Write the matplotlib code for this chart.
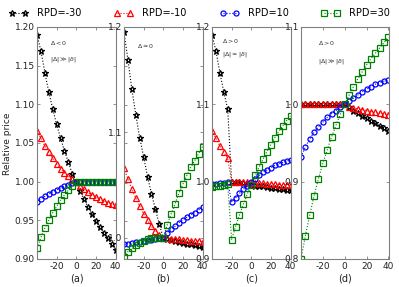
import matplotlib
matplotlib.use("Agg")
import matplotlib.pyplot as plt
from matplotlib.lines import Line2D
import numpy as np

plt.rcParams["axes.unicode_minus"] = False
plt.rcParams["font.family"] = "DejaVu Sans"

# x grid shared by all panels
x = [-40, -36, -32, -28, -24, -20, -16, -12, -8, -4, 0,
     4, 8, 12, 16, 20, 24, 28, 32, 36, 40]

labels = ["RPD=-30", "RPD=-10", "RPD=10", "RPD=30"]

# panel (a): delta < 0, |D| >> |d|
a_m30 = [1.190, 1.169, 1.141, 1.116, 1.094, 1.074, 1.056, 1.040, 1.025, 1.010, 1.000,
         0.988, 0.977, 0.967, 0.958, 0.949, 0.941, 0.934, 0.927, 0.919, 0.912]
a_m10 = [1.066, 1.056, 1.046, 1.038, 1.030, 1.023, 1.017, 1.011, 1.007, 1.003, 1.000,
         0.995, 0.990, 0.986, 0.983, 0.980, 0.977, 0.975, 0.973, 0.971, 0.970]
a_p10 = [0.974, 0.978, 0.981, 0.984, 0.987, 0.989, 0.992, 0.994, 0.996, 0.998, 1.000,
         1.000, 1.000, 1.000, 1.000, 1.000, 1.000, 1.000, 1.000, 1.000, 1.000]
a_p30 = [0.914, 0.928, 0.940, 0.950, 0.960, 0.968, 0.976, 0.983, 0.989, 0.995, 1.000,
         1.000, 1.000, 1.000, 1.000, 1.000, 1.000, 1.000, 1.000, 1.000, 1.000]

# panel (b): delta ~ 0
b_m30 = [1.195, 1.169, 1.141, 1.117, 1.095, 1.077, 1.058, 1.042, 1.027, 1.013, 1.000,
         0.999, 0.998, 0.997, 0.996, 0.995, 0.9945, 0.994, 0.993, 0.992, 0.991]
b_m10 = [1.066, 1.056, 1.046, 1.038, 1.030, 1.023, 1.017, 1.011, 1.007, 1.003, 1.000,
         0.9997, 0.9993, 0.999, 0.9986, 0.9982, 0.9978, 0.9974, 0.997, 0.9967, 0.9963]
b_p10 = [0.994, 0.9945, 0.995, 0.996, 0.9965, 0.997, 0.998, 0.998, 0.999, 0.9995, 1.000,
         1.005, 1.008, 1.011, 1.0145, 1.017, 1.0196, 1.022, 1.024, 1.0265, 1.029]
b_p30 = [0.982, 0.987, 0.990, 0.993, 0.9955, 0.9975, 0.9988, 0.9995, 0.9998, 1.000, 1.000,
         1.0123, 1.0227, 1.0322, 1.0424, 1.051, 1.059, 1.067, 1.073, 1.080, 1.0865]

# panel (c): delta > 0, |D| ~ |d|
c_m30 = [1.190, 1.169, 1.141, 1.116, 1.094, 1.000, 0.9995, 0.999, 0.998, 0.997, 0.996,
         0.995, 0.9945, 0.994, 0.993, 0.992, 0.9915, 0.991, 0.990, 0.9895, 0.989]
c_m10 = [1.066, 1.056, 1.046, 1.038, 1.030, 1.000, 1.000, 0.9998, 0.9995, 0.999, 0.9987,
         0.9983, 0.998, 0.9977, 0.9973, 0.997, 0.9967, 0.9963, 0.996, 0.9957, 0.9955]
c_p10 = [0.997, 0.997, 0.998, 0.998, 0.999, 0.974, 0.979, 0.985, 0.990, 0.995, 1.000,
         1.004, 1.008, 1.012, 1.015, 1.018, 1.021, 1.023, 1.025, 1.027, 1.028]
c_p30 = [0.993, 0.994, 0.995, 0.996, 0.997, 0.925, 0.942, 0.957, 0.971, 0.984, 0.996,
         1.008, 1.019, 1.029, 1.039, 1.048, 1.057, 1.065, 1.072, 1.079, 1.085]

# panel (d): delta > 0, |D| >> |d|
d_m30 = [1.000, 1.000, 1.000, 1.000, 1.000, 1.000, 1.000, 1.000, 1.000, 1.000, 1.000,
         0.996, 0.992, 0.9885, 0.985, 0.982, 0.979, 0.9755, 0.972, 0.969, 0.965]
d_m10 = [1.000, 1.000, 1.000, 1.000, 1.000, 1.000, 1.000, 1.000, 1.000, 1.000, 1.000,
         0.997, 0.9955, 0.994, 0.993, 0.992, 0.9905, 0.9895, 0.9885, 0.9875, 0.9865]
d_p10 = [0.932, 0.945, 0.955, 0.964, 0.971, 0.977, 0.983, 0.988, 0.992, 0.996, 1.000,
         1.004, 1.008, 1.012, 1.016, 1.0195, 1.023, 1.026, 1.028, 1.030, 1.031]
d_p30 = [0.800, 0.830, 0.857, 0.882, 0.904, 0.924, 0.941, 0.958, 0.973, 0.987, 1.000,
         1.012, 1.023, 1.033, 1.042, 1.051, 1.059, 1.066, 1.073, 1.080, 1.087]

styles = [
    dict(color="black", marker="*", ms=5.0),
    dict(color="red", marker="^", ms=4.0),
    dict(color="blue", marker="o", ms=3.6),
    dict(color="green", marker="s", ms=3.8),
]

W, H = 399, 287
fig = plt.figure(figsize=(W / 100, H / 100), dpi=100)


def add_panel(left_px, right_px):
    return fig.add_axes([left_px / W, 28 / H, (right_px - left_px) / W, 232 / H])


panels = [
    (add_panel(37, 116), [a_m30, a_m10, a_p10, a_p30], "(a)"),
    (add_panel(124, 203), [b_m30, b_m10, b_p10, b_p30], "(b)"),
    (add_panel(212, 291), [c_m30, c_m10, c_p10, c_p30], "(c)"),
    (add_panel(301, 389), [d_m30, d_m10, d_p10, d_p30], "(d)"),
]

for ax, series, name in panels:
    for ys, st in zip(series, styles):
        ax.plot(x, ys, linestyle=":", lw=0.8, color=st["color"], marker=st["marker"],
                ms=st["ms"], mfc="none", mew=0.9)
    ax.set_xlim(-40, 40.5)
    ax.set_xticks([-40, -20, 0, 20, 40])
    ax.set_xticklabels(["", "-20", "0", "20", "40"])
    ax.set_xlabel(name, fontsize=7, labelpad=1.5, color="#222222")
    ax.tick_params(direction="in", length=2, width=0.5, labelsize=6.5, top=True,
                   right=True, pad=1.5, color="#666666", labelcolor="#222222")
    ax.tick_params(which="minor", direction="in", length=2, width=0.5, right=True,
                   color="#666666")
    ax.tick_params(axis="x", pad=2.5)
    for sp in ax.spines.values():
        sp.set_color("#808080")
        sp.set_linewidth(0.8)

ax_a, ax_b, ax_c, ax_d = [p[0] for p in panels]

ax_a.set_ylim(0.90, 1.20)
ax_a.set_yticks([0.90, 0.95, 1.00, 1.05, 1.10, 1.15, 1.20])
ax_a.set_yticklabels(["0.90", "0.95", "1.00", "1.05", "1.10", "1.15", "1.20"])

ax_b.set_ylim(0.98, 1.20)
ax_b.set_yticks([1.0, 1.1, 1.2])
ax_b.set_yticklabels(["1.0", "1.1", "1.2"])
ax_b.set_yticks([1.016, 1.052, 1.090, 1.126, 1.163], minor=True)

ax_c.set_ylim(0.90, 1.20)
ax_c.set_yticks([0.9, 1.0, 1.1, 1.2])
ax_c.set_yticklabels(["0.9", "1.0", "1.1", "1.2"])

ax_d.set_ylim(0.80, 1.10)
ax_d.set_yticks([0.8, 0.9, 1.0, 1.1])
ax_d.set_yticklabels(["0.8", "0.9", "1.0", "1.1"])

# regime notes
note = dict(fontsize=4.5, color="#333333", ha="left", va="center")
ax_a.text(0.17, 0.93, r"$\Delta<0$", transform=ax_a.transAxes, **note)
ax_a.text(0.17, 0.86, r"$|\Delta|\gg|\delta|$", transform=ax_a.transAxes, **note)
ax_b.text(0.16, 0.92, r"$\Delta\approx0$", transform=ax_b.transAxes, **note)
ax_c.text(0.13, 0.94, r"$\Delta>0$", transform=ax_c.transAxes, **note)
ax_c.text(0.13, 0.88, r"$|\Delta|\approx|\delta|$", transform=ax_c.transAxes, **note)
ax_d.text(0.19, 0.93, r"$\Delta>0$", transform=ax_d.transAxes, **note)
ax_d.text(0.19, 0.85, r"$|\Delta|\gg|\delta|$", transform=ax_d.transAxes, **note)

fig.text(8 / W, 0.5, "Relative price", rotation=90, fontsize=6.5, color="#222222",
         ha="center", va="center")

handles = [Line2D([], [], linestyle=":", lw=0.8, color=st["color"], marker=st["marker"],
                  ms=st["ms"], mfc="none", mew=0.9) for st in styles]
fig.legend(handles, labels, loc="center left", bbox_to_anchor=(9 / W, 1 - 13 / H),
           ncol=4, frameon=False, fontsize=7, numpoints=2, handlelength=1.94,
           handletextpad=0.93, columnspacing=3.4, borderpad=0, borderaxespad=0)

fig.savefig("out.png", dpi=100)
